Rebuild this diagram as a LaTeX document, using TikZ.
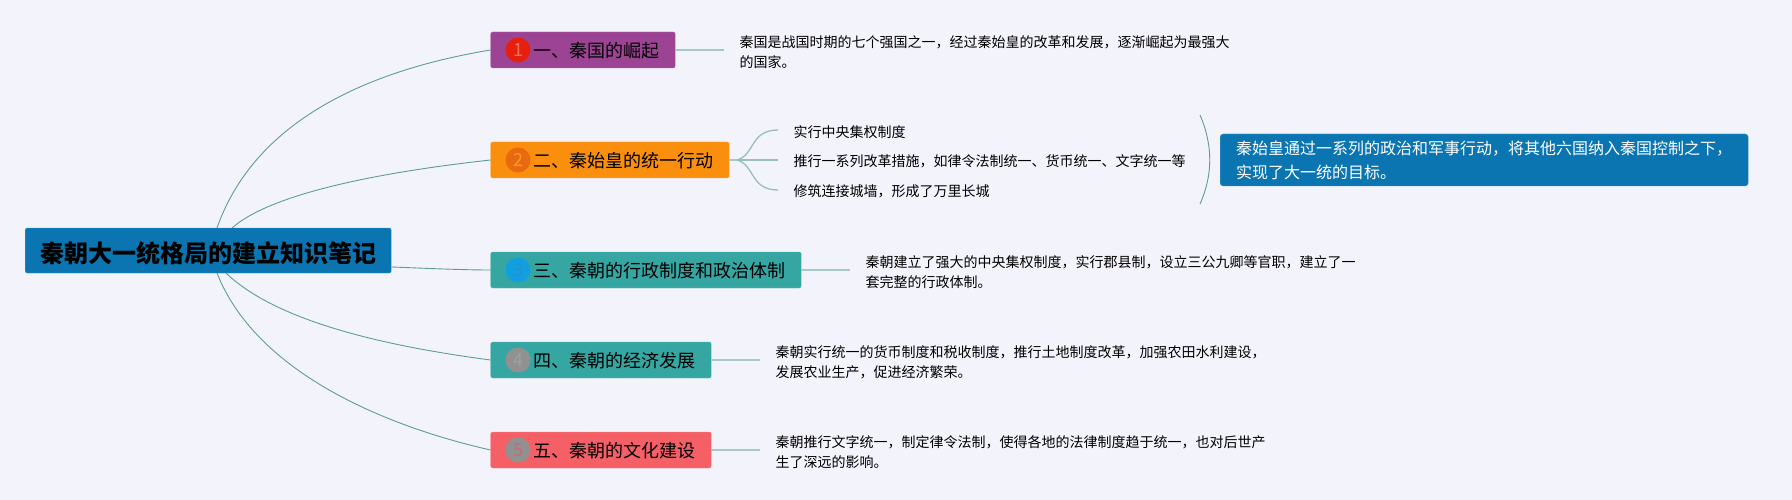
\documentclass[tikz,border=0pt]{standalone}
\usepackage{fontspec}
\setmainfont{Noto Sans CJK SC}
\definecolor{pagebg}{HTML}{F3F3FB}
\definecolor{rootblue}{HTML}{0A75B1}
\definecolor{topicpurple}{HTML}{9C4493}
\definecolor{topicorange}{HTML}{FA8F0E}
\definecolor{topicteal}{HTML}{36A6A3}
\definecolor{topicred}{HTML}{F55F66}
\definecolor{linemain}{HTML}{5F9C98}
\definecolor{linelight}{HTML}{A6C8C6}
\definecolor{badgered}{HTML}{E5200F}
\definecolor{badgeredtext}{HTML}{F0705F}
\definecolor{badgeorange}{HTML}{E8690F}
\definecolor{badgeorangetext}{HTML}{F79A2A}
\definecolor{badgeblue}{HTML}{129FE0}
\definecolor{badgebluetext}{HTML}{2391D6}
\definecolor{badgegray}{HTML}{919191}
\definecolor{badgegraytext}{HTML}{A0A0A0}
\definecolor{badgepinktext}{HTML}{C96A70}
\tikzset{%
  root/.style={
    rectangle,
    rounded corners=2pt,
    draw=rootblue!75!white,
    fill=rootblue,
    anchor=west,
    inner xsep=15pt,
    inner ysep=0pt,
    minimum height=45pt,
    text height=26pt,
    text depth=3pt,
    font=\fontsize{24}{30}\selectfont\bfseries
  },
  topic/.style={
    rectangle,
    rounded corners=2pt,
    draw=#1!75!white,
    fill=#1,
    anchor=west,
    inner xsep=16pt,
    inner ysep=0pt,
    minimum height=36pt,
    text height=17pt,
    text depth=1.5pt,
    font=\fontsize{18}{22}\selectfont,
    execute at begin node=\hspace*{26.5pt}
  },
  badge/.style={
    circle,
    fill=#1,
    inner sep=0pt,
    minimum size=25pt,
    font=\fontsize{18}{20}\selectfont
  },
  detail/.style={
    anchor=west,
    align=left,
    inner xsep=15.5pt,
    inner ysep=0pt,
    font=\fontsize{14}{20}\selectfont
  },
  callout/.style={
    rectangle,
    rounded corners=3pt,
    draw=rootblue!75!white,
    fill=rootblue,
    text=white,
    anchor=west,
    align=left,
    inner xsep=16pt,
    inner ysep=0pt,
    minimum height=52pt,
    font=\fontsize{16}{24}\selectfont
  },
  branch/.style={draw=linemain, line width=0.9pt},
  stub/.style={draw=linelight, line width=2pt},
  fork/.style={draw=linelight!80!linemain, line width=1.3pt},
}

\begin{document}
\begin{tikzpicture}[x=1pt,y=-1pt]
\fill[pagebg] (0,0) rectangle (1792,500);
\node[root] (qin) at (25,250.5) {秦朝大一统格局的建立知识笔记};

\node[topic=topicpurple] (rise) at (490.5,50) {一、秦国的崛起};
\node[topic=topicorange] (unify) at (490.5,160) {二、秦始皇的统一行动};
\node[topic=topicteal] (admin) at (490.5,270) {三、秦朝的行政制度和政治体制};
\node[topic=topicteal] (econ) at (490.5,360) {四、秦朝的经济发展};
\node[topic=topicred] (culture) at (490.5,450) {五、秦朝的文化建设};

\node[badge=badgered, text=badgeredtext] (num1) at (518,50) {1};
\node[badge=badgeorange, text=badgeorangetext] (num2) at (518,160) {2};
\node[badge=badgeblue, text=badgebluetext] (num3) at (518,270) {3};
\node[badge=badgegray, text=badgegraytext] (num4) at (518,360) {4};
\node[badge=badgegray, text=badgepinktext] (num5) at (518,450) {5};

\node[detail] (riseinfo) at (724,52.2) {秦国是战国时期的七个强国之一，经过秦始皇的改革和发展，逐渐崛起为最强大\\的国家。};
\node[detail] (admininfo) at (850,272.2) {秦朝建立了强大的中央集权制度，实行郡县制，设立三公九卿等官职，建立了一\\套完整的行政体制。};
\node[detail] (econinfo) at (760,362.2) {秦朝实行统一的货币制度和税收制度，推行土地制度改革，加强农田水利建设，\\发展农业生产，促进经济繁荣。};
\node[detail] (cultureinfo) at (760,452.2) {秦朝推行文字统一，制定律令法制，使得各地的法律制度趋于统一，也对后世产\\生了深远的影响。};

\node[detail] (central) at (778,131.7) {实行中央集权制度};
\node[detail] (reform) at (778,161.7) {推行一系列改革措施，如律令法制统一、货币统一、文字统一等};
\node[detail] (wall) at (778,191.7) {修筑连接城墙，形成了万里长城};

\node[callout] (summary) at (1220,160) {秦始皇通过一系列的政治和军事行动，将其他六国纳入秦国控制之下，\\实现了大一统的目标。};

\coordinate (qinup1) at (217,228);
\coordinate (qinup2) at (232,228);
\coordinate (qinlow1) at (226,273);
\coordinate (qinlow2) at (217,273);
\coordinate (forkpt) at (737,160);
\coordinate (bracetop) at (1200,115);
\coordinate (bracelow) at (1200,204);

\draw[branch] (qinup1) .. controls (260,105) and (400,65) .. (rise.west);
\draw[branch] (qinup2) .. controls (275,190) and (400,170) .. (unify.west);
\draw[branch] (qin.east |- 0,267) .. controls (420,268) and (460,270) .. (admin.west);
\draw[branch] (qinlow1) .. controls (280,325) and (400,348) .. (econ.west);
\draw[branch] (qinlow2) .. controls (255,370) and (380,425) .. (culture.west);

\draw[stub] (rise.east) -- (rise.east -| riseinfo.west);
\draw[stub] (admin.east) -- (admin.east -| admininfo.west);
\draw[stub] (econ.east) -- (econ.east -| econinfo.west);
\draw[stub] (culture.east) -- (culture.east -| cultureinfo.west);

\draw[stub] (unify.east) -- (forkpt);
\draw[fork] (forkpt) .. controls (755,155) and (750,130) .. (central.west |- 0,130);
\draw[fork] (forkpt) -- (reform.west |- 0,160);
\draw[fork] (forkpt) .. controls (755,165) and (750,190) .. (wall.west |- 0,190);

\draw[branch] (bracetop) .. controls (1213,145) and (1213,175) .. (bracelow);
\end{tikzpicture}
\end{document}
